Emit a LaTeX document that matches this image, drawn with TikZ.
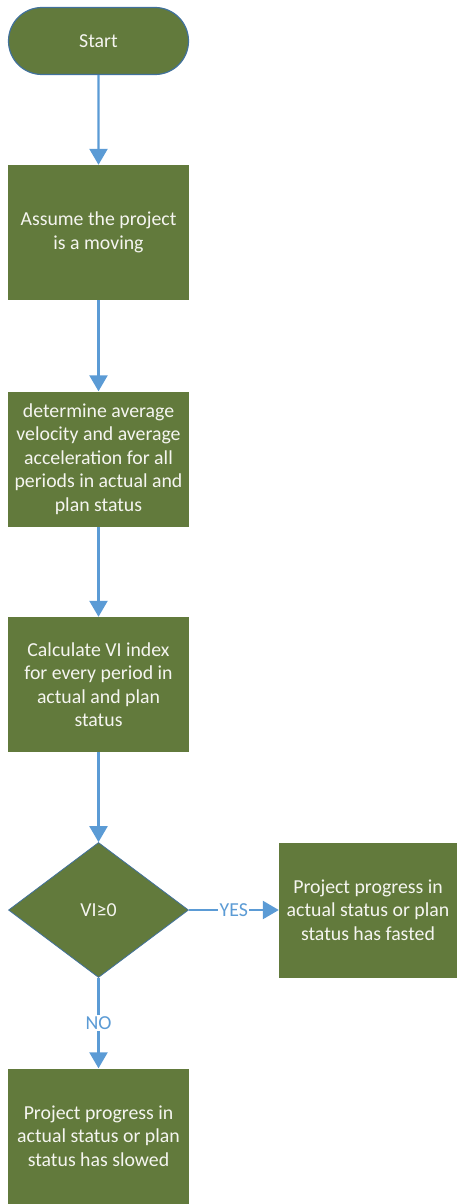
\documentclass[tikz,border=0pt]{standalone}
\usepackage{fontspec}
\setmainfont{Carlito}
\usetikzlibrary{shapes.geometric,shapes.misc,arrows.meta}
\definecolor{boxgreen}{RGB}{98,122,60}
\definecolor{linkblue}{RGB}{91,155,213}
\definecolor{edgeblue}{RGB}{65,113,156}
\definecolor{textwhite}{RGB}{245,245,240}
\tikzset{
  x=1pt, y=-1pt,
  bodyfont/.style={font=\fontsize{19.8}{23.5}\selectfont},
  procbox/.style={fill=boxgreen, draw=none, minimum width=181pt, minimum height=135pt,
    align=center, text=textwhite, inner sep=0pt, bodyfont},
  termbox/.style={rounded rectangle, fill=boxgreen, draw=edgeblue, line width=1.2pt,
    minimum width=180pt, minimum height=67pt, text=textwhite, inner sep=0pt, bodyfont},
  decbox/.style={diamond, fill=boxgreen, draw=edgeblue, line width=0.8pt, aspect=1.33,
    minimum width=180pt, minimum height=135pt, inner sep=0pt, text=textwhite, bodyfont},
  link/.style={draw=linkblue, line width=2.4pt, -{Triangle[length=16pt,width=18pt]}},
  linklabel/.style={fill=white, text=linkblue, inner sep=1.5pt, bodyfont}
}
\begin{document}
\begin{tikzpicture}
\useasboundingbox (0,0) rectangle (457,1204);
\node[termbox] (start) at (98.5,41) {Start};
\node[procbox] (b1) at (98.5,232.5) {Assume the project\\is a moving};
\node[procbox] (b2) at (98.5,459) {determine average\\velocity and average\\acceleration for all\\periods in actual and\\plan status};
\node[procbox] (b3) at (98.5,684.5) {Calculate VI index\\for every period in\\actual and plan\\status};
\node[decbox] (dec) at (98.5,910) {VI≥0};
\node[procbox, minimum width=178pt] (yes) at (368,910) {Project progress in\\actual status or plan\\status has fasted};
\node[procbox] (no) at (98.5,1136) {Project progress in\\actual status or plan\\status has slowed};
\draw[link] (start) -- (b1);
\draw[link] (b1) -- (b2);
\draw[link] (b2) -- (b3);
\draw[link] (b3) -- (dec);
\draw[link] (dec) -- node[linklabel] {YES} (yes);
\draw[link] (dec) -- node[linklabel, pos=0.5] {NO} (no);
\end{tikzpicture}
\end{document}
